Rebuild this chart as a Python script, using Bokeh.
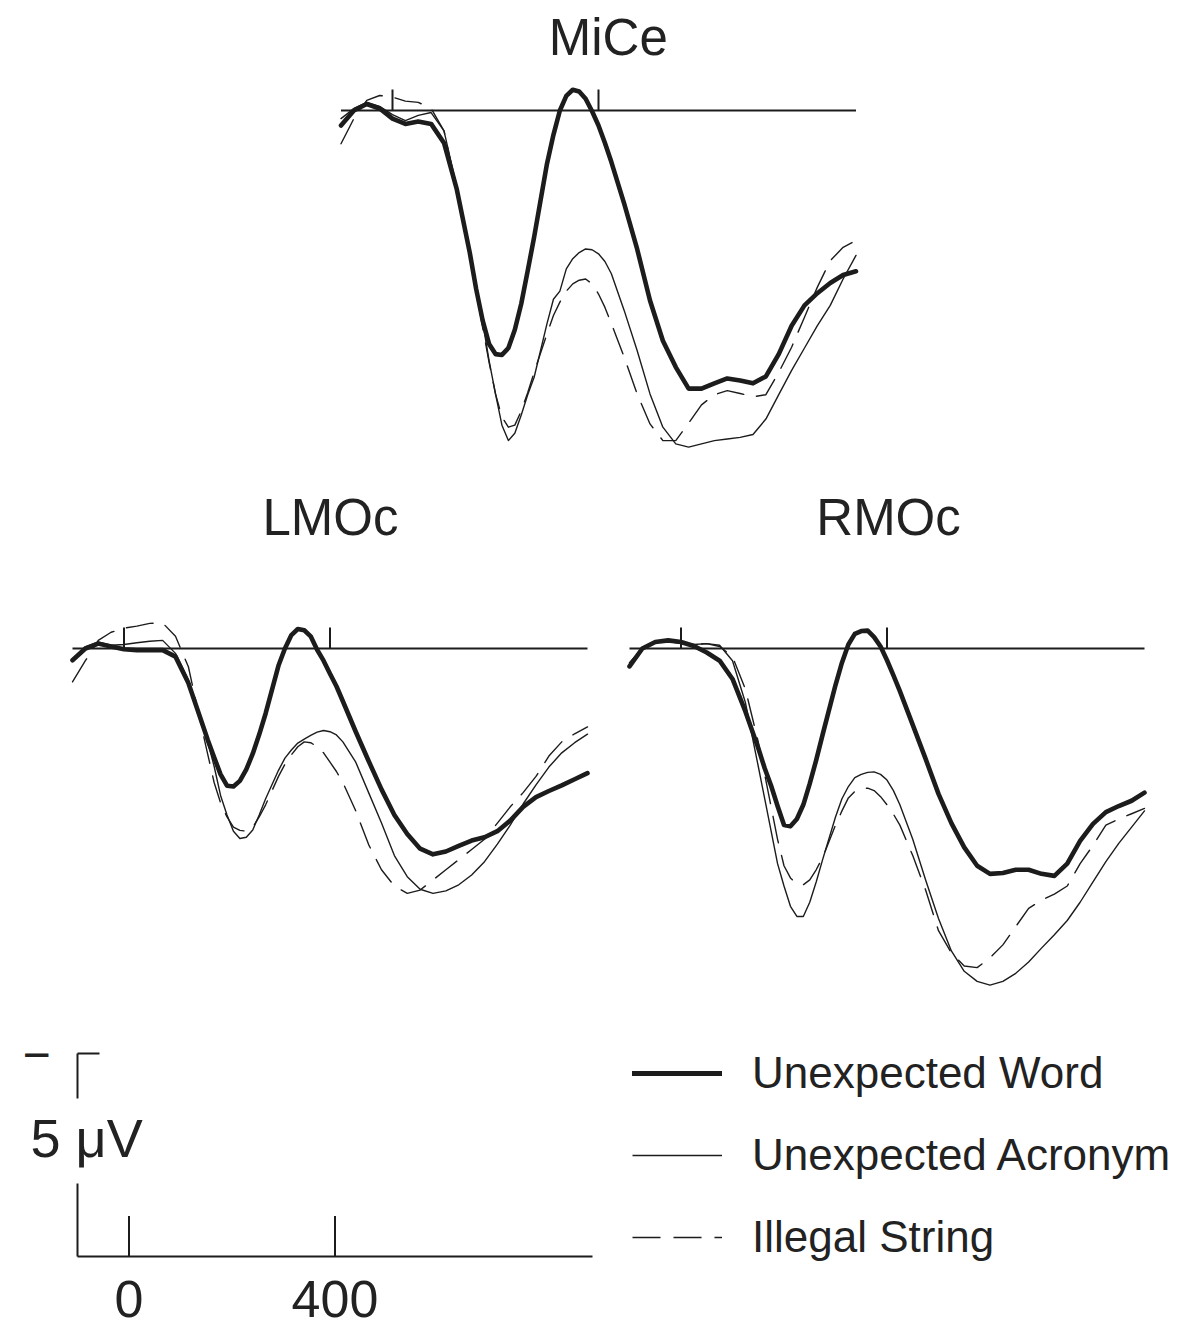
from bokeh.plotting import figure
from bokeh.models import Range1d, Legend, LegendItem, Spacer, ColumnDataSource
from bokeh.layouts import column, row
from bokeh.embed import file_html
from bokeh.resources import INLINE
from bokeh.core.properties import value

# ---------------- data (ms, microvolts; positive plotted downward) ----------------
# main sampling grid
time_ms = [-100, -75, -50, -25, 0, 25, 50, 75, 100, 125, 150, 175, 200, 225, 250, 275, 300,
           325, 350, 375, 400, 425, 450, 475, 500, 525, 550, 575, 600, 625, 650, 675, 700,
           725, 750, 775, 800, 825, 850, 875, 900]
# extra readings taken around the two early peaks
time_extra_ms = [162.5, 187.5, 212.5, 237.5, 262.5, 312.5, 337.5, 362.5, 387.5, 412.5]

mice_word = [0.37, 0.0, -0.16, -0.05, 0.2, 0.33, 0.27, 0.33, 0.8, 1.95, 3.5, 5.17, 6.0, 5.85,
             4.76, 3.12, 1.31, 0.0, -0.51, -0.29, 0.37, 1.27, 2.3, 3.41, 4.68, 5.67, 6.32,
             6.85, 6.85, 6.72, 6.6, 6.65, 6.72, 6.55, 6.0, 5.3, 4.8, 4.5, 4.25, 4.05, 3.96]
mice_word_extra = [4.4, 5.75, 6.02, 5.4, 3.95, 0.6, -0.36, -0.47, 0.02, 0.8]
mice_acronym = [0.2, -0.05, -0.2, -0.1, 0.1, 0.25, 0.12, 0.05, 0.5, 1.9, 3.6, 5.2, 6.98, 8.13,
                7.5, 6.57, 5.25, 4.45, 3.65, 3.41, 3.53, 4.02, 4.93, 5.91, 6.98, 7.8, 8.21,
                8.29, 8.21, 8.13, 8.09, 8.05, 7.98, 7.6, 7.0, 6.4, 5.85, 5.3, 4.8, 4.15, 3.57]
mice_acronym_extra = [4.35, 6.16, 7.75, 7.95, 7.0, 4.65, 3.9, 3.5, 3.43, 3.72]
mice_illegal = [0.82, 0.2, -0.25, -0.37, -0.33, -0.23, -0.2, -0.05, 0.5, 1.97, 3.53, 5.34, 6.98,
                7.8, 7.4, 6.45, 5.5, 4.72, 4.27, 4.15, 4.52, 5.25, 6.08, 6.98, 7.72, 8.13, 8.13,
                7.7, 7.25, 7.0, 6.9, 6.97, 7.05, 7.0, 6.45, 5.83, 5.09, 4.35, 3.7, 3.37, 3.2]
mice_illegal_extra = [4.45, 6.2, 7.55, 7.75, 6.95, 5.05, 4.45, 4.18, 4.27, 4.85]

lmoc_word = [0.29, 0.0, -0.12, -0.05, 0.02, 0.04, 0.04, 0.04, 0.2, 0.85, 1.78, 2.68, 3.38, 3.26,
             2.59, 1.6, 0.42, -0.33, -0.45, 0.03, 0.62, 1.3, 2.05, 2.77, 3.47, 4.1, 4.57, 4.93,
             5.07, 5.0, 4.86, 4.73, 4.65, 4.5, 4.24, 3.9, 3.66, 3.51, 3.37, 3.22, 3.07]
lmoc_word_extra = [2.25, 3.1, 3.4, 2.98, 2.12, 0.0, -0.48, -0.3, 0.3, 0.93]
lmoc_acronym = [0.25, -0.04, -0.16, -0.08, -0.1, -0.14, -0.18, -0.2, 0.12, 0.78, 1.75, 2.9, 4.1,
                4.68, 4.47, 3.7, 3.0, 2.5, 2.23, 2.06, 2.05, 2.3, 2.8, 3.55, 4.3, 5.1, 5.62, 5.93,
                6.03, 5.97, 5.82, 5.58, 5.25, 4.82, 4.35, 3.83, 3.36, 2.92, 2.57, 2.32, 2.11]
lmoc_acronym_extra = [2.3, 3.62, 4.5, 4.65, 4.1, 2.7, 2.33, 2.14, 2.02, 2.13]
lmoc_illegal = [0.82, 0.3, -0.2, -0.4, -0.5, -0.55, -0.62, -0.63, -0.3, 0.45, 1.9, 3.3, 4.15,
                4.48, 4.4, 3.85, 3.15, 2.62, 2.3, 2.42, 2.8, 3.3, 4.0, 4.83, 5.45, 5.85, 6.03,
                5.95, 5.7, 5.45, 5.2, 4.95, 4.7, 4.3, 3.9, 3.55, 3.15, 2.65, 2.3, 2.1, 1.93]
lmoc_illegal_extra = [2.6, 3.8, 4.4, 4.5, 4.15, 2.85, 2.42, 2.32, 2.57, 3.03]

rmoc_word = [0.44, 0.0, -0.16, -0.2, -0.16, -0.06, 0.1, 0.3, 0.75, 1.55, 2.45, 3.38, 4.35, 4.2,
             3.33, 2.12, 0.9, -0.1, -0.43, -0.28, 0.29, 1.05, 1.88, 2.72, 3.58, 4.3, 4.9, 5.35,
             5.55, 5.53, 5.45, 5.45, 5.55, 5.6, 5.3, 4.74, 4.32, 4.03, 3.88, 3.75, 3.55]
rmoc_word_extra = [2.95, 3.88, 4.38, 3.85, 2.75, 0.35, -0.36, -0.44, -0.05, 0.66]
rmoc_acronym = [0.36, 0.0, -0.16, -0.19, -0.16, -0.1, -0.12, -0.08, 0.3, 1.33, 2.9, 4.5, 5.85,
                6.6, 6.25, 5.2, 4.15, 3.4, 3.1, 3.04, 3.24, 3.85, 4.7, 5.7, 6.65, 7.45, 7.95,
                8.2, 8.29, 8.2, 8.0, 7.72, 7.38, 7.05, 6.7, 6.25, 5.75, 5.25, 4.8, 4.4, 4.0]
rmoc_acronym_extra = [3.7, 5.3, 6.35, 6.6, 5.75, 3.7, 3.18, 3.05, 3.1, 3.5]
rmoc_illegal = [0.35, 0.0, -0.15, -0.18, -0.12, -0.1, -0.12, -0.05, 0.2, 1.0, 2.3, 3.9, 5.35,
                5.8, 5.7, 5.15, 4.35, 3.68, 3.45, 3.5, 3.85, 4.35, 5.1, 5.95, 6.95, 7.5, 7.82,
                7.86, 7.62, 7.3, 6.85, 6.4, 6.2, 6.05, 5.85, 5.3, 4.85, 4.35, 4.2, 4.07, 3.94]
rmoc_illegal_extra = [3.1, 4.7, 5.65, 5.82, 5.45, 4.0, 3.52, 3.44, 3.65, 4.08]

panel_names = ["MiCe", "LMOc", "RMOc"]
condition_names = ["Unexpected Word", "Unexpected Acronym", "Illegal String"]
tick_ms = [0, 400]
tick_labels = ["0", "400"]
scale_uv = 5
scale_label = "5 \u03bcV"

# ---------------- styling / layout constants ----------------
PX_PER_MS = 0.515
PX_PER_UV = 40.6
INK = "#1c1c1c"
TXT = "#222222"
FONT = "Liberation Sans"
DASH = "27 13"
styles = [dict(line_width=4.6, line_dash="solid"),
          dict(line_width=1.4, line_dash="solid"),
          dict(line_width=1.4, line_dash=DASH)]


def merged(main_vals, extra_vals):
    """Combine main-grid and extra readings, ordered by time."""
    pairs = sorted(zip(time_ms + time_extra_ms, main_vals + extra_vals))
    return [t for t, _ in pairs], [v for _, v in pairs]


def make_panel(left, top, width, height, zero_x, base_y):
    """Figure whose data scale puts 0 ms at page x=zero_x and 0 uV at page y=base_y."""
    x0 = (left - zero_x) / PX_PER_MS
    x1 = (left + width - zero_x) / PX_PER_MS
    y_top = (top - base_y) / PX_PER_UV
    y_bot = (top + height - base_y) / PX_PER_UV
    p = figure(width=width, height=height,
               x_range=Range1d(x0, x1), y_range=Range1d(y_bot, y_top),
               x_axis_type=None, y_axis_type=None, toolbar_location=None,
               output_backend="svg", min_border=0, outline_line_color=None,
               background_fill_color="white", border_fill_color="white")
    return p


def erp_panel(p, title, title_ms, title_uv, series):
    # baseline and time ticks
    p.line(x=[time_ms[0], time_ms[-1]], y=[0, 0], line_color=INK, line_width=2)
    p.segment(x0=tick_ms, y0=[0] * len(tick_ms), x1=tick_ms, y1=[-0.52] * len(tick_ms),
              line_color=INK, line_width=2)
    # curves: draw thin ones first, thick on top
    for (vals, extra), st in reversed(list(zip(series, styles))):
        t, v = merged(vals, extra)
        src = ColumnDataSource(dict(t=t, v=v))
        p.line(x="t", y="v", source=src, line_color=INK, line_width=st["line_width"],
               line_dash=st["line_dash"], line_join="round", line_cap="round")
    p.text(x=[title_ms], y=[title_uv], text=[title], text_font=value(FONT),
           text_font_size="51px", text_color=TXT, text_align="center",
           text_baseline="middle")


# MiCe panel (page x 320..880, y 8..470)
mice = make_panel(320, 8, 560, 462, zero_x=392, base_y=110)
erp_panel(mice, panel_names[0], 419, (37 - 110) / PX_PER_UV,
          [(mice_word, mice_word_extra), (mice_acronym, mice_acronym_extra),
           (mice_illegal, mice_illegal_extra)])

# LMOc panel (page x 8..598, y 470..1010)
lmoc = make_panel(8, 470, 590, 540, zero_x=123.5, base_y=648)
erp_panel(lmoc, panel_names[1], 401, (517 - 648) / PX_PER_UV,
          [(lmoc_word, lmoc_word_extra), (lmoc_acronym, lmoc_acronym_extra),
           (lmoc_illegal, lmoc_illegal_extra)])

# RMOc panel (page x 598..1188, y 470..1010)
rmoc = make_panel(598, 470, 590, 540, zero_x=680.5, base_y=648)
erp_panel(rmoc, panel_names[2], 403, (517 - 648) / PX_PER_UV,
          [(rmoc_word, rmoc_word_extra), (rmoc_acronym, rmoc_acronym_extra),
           (rmoc_illegal, rmoc_illegal_extra)])

# Scale panel (page x 8..598, y 1010..1328)
SCALE_H = 318
scale = make_panel(8, 1010, 590, SCALE_H, zero_x=128.5, base_y=1256)
x_left = time_ms[0]
scale.line(x=[time_ms[0], time_ms[-1]], y=[0, 0], line_color=INK, line_width=2)
scale.segment(x0=tick_ms, y0=[0] * len(tick_ms), x1=tick_ms, y1=[-1.0] * len(tick_ms),
              line_color=INK, line_width=2)
# vertical calibration bar with a gap for its label
gap_low = -(1256 - 1183) / PX_PER_UV
gap_high = -(1256 - 1098) / PX_PER_UV
scale.segment(x0=[x_left, x_left], y0=[0, gap_high], x1=[x_left, x_left], y1=[gap_low, -scale_uv],
              line_color=INK, line_width=2)
scale.segment(x0=[x_left], y0=[-scale_uv], x1=[x_left + 22 / PX_PER_MS], y1=[-scale_uv],
              line_color=INK, line_width=2)
scale.text(x=[(36 - 128.5) / PX_PER_MS], y=[-scale_uv + 0.02], text=["\u2212"],
           text_font=value(FONT), text_font_size="48px", text_color=TXT,
           text_align="center", text_baseline="middle")
scale.text(x=[(30 - 128.5) / PX_PER_MS], y=[(1137 - 1256) / PX_PER_UV], text=[scale_label],
           text_font=value(FONT), text_font_size="54px", text_color=TXT,
           text_align="left", text_baseline="middle")
scale.text(x=tick_ms, y=[(1298 - 1256) / PX_PER_UV] * len(tick_ms), text=tick_labels,
           text_font=value(FONT), text_font_size="52px", text_color=TXT,
           text_align="center", text_baseline="middle")

# Legend panel (page x 598..1188, y 1010..1328)
leg = figure(width=590, height=SCALE_H, x_range=Range1d(0, 1), y_range=Range1d(0, 1),
             x_axis_type=None, y_axis_type=None, toolbar_location=None,
             output_backend="svg", min_border=0, outline_line_color=None,
             background_fill_color="white", border_fill_color="white")
items = []
for name, st in zip(condition_names, styles):
    dash = "28 13" if st["line_dash"] != "solid" else "solid"
    thick = st["line_width"] > 2
    # proxy renderer lying outside the visible range; only its legend swatch shows
    r = leg.line(x=[5, 6], y=[5, 5], line_color=INK,
                 line_width=st["line_width"] + (0.4 if thick else 0),
                 line_dash=dash, line_cap="round" if thick else "butt")
    items.append(LegendItem(label=name, renderers=[r]))
legend = Legend(items=items, location=(34, 43 + (SCALE_H - 311)), orientation="vertical",
                glyph_width=90, glyph_height=82, label_height=82, label_standoff=30,
                spacing=0, padding=0, margin=0, border_line_color=None,
                background_fill_alpha=0, label_text_font=FONT,
                label_text_font_size="44px", label_text_color=TXT)
leg.add_layout(legend)

content = column(
    row(Spacer(width=312, height=462), mice),
    row(lmoc, rmoc),
    row(scale, leg),
)
page = column(Spacer(width=1180, height=8), row(Spacer(width=8, height=10), content))

open("out.html", "w").write(file_html(page, INLINE, title="ERP waveforms"))
